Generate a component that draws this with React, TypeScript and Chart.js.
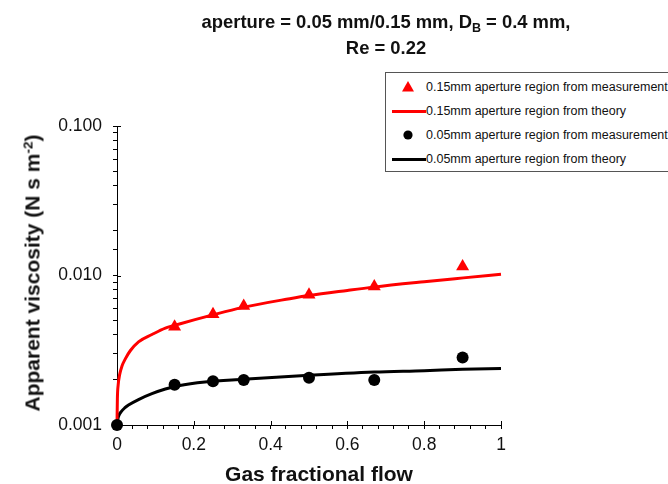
import React, { useEffect, useRef } from "react";
import { Chart, registerables } from "chart.js";

Chart.register(...registerables);

const FONT = '"Liberation Sans", Arial, Helvetica, sans-serif';
const RED = "#ff0000";
const BLACK = "#000000";

// 0.15 mm aperture: measured apparent viscosity (N s m^-2) vs gas fractional flow
const wideFlow = [0.15, 0.25, 0.33, 0.5, 0.67, 0.9];
const wideMeasured = [0.00455, 0.0055, 0.00624, 0.00743, 0.00845, 0.0115];

// 0.15 mm aperture: theory curve
const wideTheoryFlow = [0, 0.001, 0.003, 0.007, 0.013, 0.022, 0.035, 0.056, 0.091, 0.126, 0.165, 0.247, 0.325, 0.45, 0.5, 0.6, 0.668, 0.8, 0.902, 1.0];
const wideTheory = [0.001, 0.0015, 0.00185, 0.00218, 0.00248, 0.00278, 0.00315, 0.0036, 0.00403, 0.00445, 0.00476, 0.00543, 0.0061, 0.007, 0.00735, 0.00795, 0.00836, 0.00908, 0.00964, 0.0102];

// 0.05 mm aperture: measured apparent viscosity
const narrowFlow = [0, 0.15, 0.25, 0.33, 0.5, 0.67, 0.9];
const narrowMeasured = [0.001, 0.00186, 0.00196, 0.002, 0.00207, 0.002, 0.00283];

// 0.05 mm aperture: theory curve
const narrowTheoryFlow = [0, 0.002, 0.005, 0.01, 0.02, 0.03, 0.056, 0.091, 0.126, 0.16, 0.229, 0.33, 0.5, 0.67, 0.8, 0.9, 1.0];
const narrowTheory = [0.001, 0.00109, 0.00116, 0.00122, 0.0013, 0.00136, 0.00148, 0.00162, 0.00174, 0.00183, 0.00194, 0.00202, 0.00215, 0.00226, 0.00231, 0.00236, 0.00239];

// axis tick labels
const xTickValues = [0, 0.2, 0.4, 0.6, 0.8, 1];
const xTickLabels = ["0", "0.2", "0.4", "0.6", "0.8", "1"];
const yTickValues = [0.001, 0.01, 0.1];
const yTickLabels = ["0.001", "0.010", "0.100"];

const legendItems = [
  { label: "0.15mm aperture region from measurement", color: RED, kind: "triangle" },
  { label: "0.15mm aperture region from theory", color: RED, kind: "line" },
  { label: "0.05mm aperture region from measurement", color: BLACK, kind: "circle" },
  { label: "0.05mm aperture region from theory", color: BLACK, kind: "line" },
];

const toPoints = (xs: number[], ys: number[]) => xs.map((x, i) => ({ x, y: ys[i] }));

const labelFor = (values: number[], labels: string[], v: number) => {
  const i = values.findIndex((m) => Math.abs(m - v) <= 1e-6 * Math.max(1e-3, Math.abs(m)));
  return i >= 0 ? labels[i] : "";
};

// longer tick marks at the labelled values, reaching into the plot
const majorTickMarks = {
  id: "majorTickMarks",
  beforeDatasetsDraw(chart: any) {
    const { ctx, scales } = chart;
    const x = scales.x;
    const y = scales.y;
    ctx.save();
    ctx.strokeStyle = BLACK;
    ctx.lineWidth = 1;
    ctx.beginPath();
    for (const v of xTickValues) {
      const px = Math.round(x.getPixelForValue(v)) + 0.5;
      ctx.moveTo(px, y.bottom - 4);
      ctx.lineTo(px, y.bottom);
    }
    for (const v of yTickValues) {
      const py = Math.round(y.getPixelForValue(v)) + 0.5;
      ctx.moveTo(x.left, py);
      ctx.lineTo(x.left + 4, py);
    }
    ctx.stroke();
    ctx.restore();
  },
};

function LegendMarker({ kind, color }: { kind: string; color: string }) {
  if (kind === "line") {
    return <div style={{ position: "absolute", left: 6, top: -1.5, width: 34, height: 3, background: color }} />;
  }
  if (kind === "triangle") {
    return (
      <svg style={{ position: "absolute", left: 16, top: -6 }} width={12} height={11}>
        <polygon points="6,0 12,10.5 0,10.5" fill={color} />
      </svg>
    );
  }
  return (
    <svg style={{ position: "absolute", left: 17, top: -5 }} width={10} height={10}>
      <circle cx={5} cy={5} r={4.6} fill={color} />
    </svg>
  );
}

export default function App() {
  const canvasRef = useRef<HTMLCanvasElement>(null);

  useEffect(() => {
    const canvas = canvasRef.current;
    if (!canvas) return;
    Chart.defaults.font.family = FONT;
    Chart.defaults.color = "#111";

    const chart = new Chart(canvas, {
      type: "scatter",
      data: {
        datasets: [
          {
            label: "0.15mm aperture region from measurement",
            data: toPoints(wideFlow, wideMeasured),
            pointStyle: "triangle",
            pointRadius: 7.5,
            backgroundColor: RED,
            borderColor: RED,
            borderWidth: 0,
            showLine: false,
            clip: false,
          },
          {
            label: "0.05mm aperture region from measurement",
            data: toPoints(narrowFlow, narrowMeasured),
            pointStyle: "circle",
            pointRadius: 6,
            backgroundColor: BLACK,
            borderColor: BLACK,
            borderWidth: 0,
            showLine: false,
            clip: false,
          },
          {
            label: "0.15mm aperture region from theory",
            data: toPoints(wideTheoryFlow, wideTheory),
            showLine: true,
            pointRadius: 0,
            borderColor: RED,
            borderWidth: 3,
            cubicInterpolationMode: "monotone",
            clip: false,
          },
          {
            label: "0.05mm aperture region from theory",
            data: toPoints(narrowTheoryFlow, narrowTheory),
            showLine: true,
            pointRadius: 0,
            borderColor: BLACK,
            borderWidth: 3,
            cubicInterpolationMode: "monotone",
            clip: false,
          },
        ],
      },
      options: {
        responsive: false,
        animation: false,
        devicePixelRatio: 1,
        layout: { padding: { left: 0, top: 126, right: 167, bottom: 0 } },
        plugins: {
          legend: { display: false },
          title: { display: false },
          tooltip: { enabled: false },
        },
        scales: {
          x: {
            type: "linear",
            min: 0,
            max: 1,
            afterFit: (s: any) => {
              s.height = 59;
            },
            border: { display: true, color: BLACK, width: 1 },
            grid: { display: true, drawOnChartArea: false, drawTicks: true, tickLength: 4, tickColor: BLACK },
            ticks: {
              stepSize: 0.04,
              autoSkip: false,
              maxRotation: 0,
              padding: 6,
              color: "#111",
              font: { size: 17.5, family: FONT },
              callback: (v: any) => labelFor(xTickValues, xTickLabels, Number(v)),
            },
          },
          y: {
            type: "logarithmic",
            min: 0.001,
            max: 0.1,
            afterFit: (s: any) => {
              s.width = 117;
            },
            border: { display: true, color: BLACK, width: 1 },
            grid: { display: true, drawOnChartArea: false, drawTicks: true, tickLength: 4, tickColor: BLACK },
            ticks: {
              autoSkip: false,
              padding: 11,
              color: "#111",
              font: { size: 17.5, family: FONT },
              callback: (v: any) => labelFor(yTickValues, yTickLabels, Number(v)),
            },
          },
        },
      },
      plugins: [majorTickMarks],
    } as any);

    return () => chart.destroy();
  }, []);

  return (
    <div
      style={{
        position: "fixed",
        left: 0,
        top: 0,
        width: 668,
        height: 484,
        overflow: "hidden",
        background: "#fff",
        fontFamily: FONT,
        color: "#111",
      }}
    >
      <canvas ref={canvasRef} width={668} height={484} style={{ position: "absolute", left: 0, top: 0, width: 668, height: 484 }} />

      {/* chart title */}
      <div style={{ position: "absolute", left: 186, width: 400, top: 13, textAlign: "center", fontSize: 18.4, fontWeight: "bold", lineHeight: 1, whiteSpace: "nowrap" }}>
        aperture = 0.05 mm/0.15 mm, D<span style={{ fontSize: "0.68em", position: "relative", top: "0.3em" }}>B</span> = 0.4 mm,
      </div>
      <div style={{ position: "absolute", left: 186, width: 400, top: 39, textAlign: "center", fontSize: 18.4, fontWeight: "bold", lineHeight: 1, whiteSpace: "nowrap" }}>
        Re = 0.22
      </div>

      {/* y axis title */}
      <div
        style={{
          position: "absolute",
          left: 32,
          top: 273,
          transform: "translate(-50%, -50%) rotate(-90deg)",
          fontSize: 21,
          fontWeight: "bold",
          lineHeight: 1,
          whiteSpace: "nowrap",
        }}
      >
        Apparent viscosity (N s m<span style={{ fontSize: "0.65em", position: "relative", top: "-0.55em" }}>-2</span>)
      </div>

      {/* x axis title */}
      <div style={{ position: "absolute", left: 169, width: 300, top: 463, textAlign: "center", fontSize: 21, fontWeight: "bold", lineHeight: 1, whiteSpace: "nowrap" }}>
        Gas fractional flow
      </div>

      {/* legend box */}
      <div
        style={{
          position: "absolute",
          left: 385,
          top: 72,
          width: 300,
          height: 98,
          border: "1px solid #555",
          background: "#fff",
        }}
      >
        {legendItems.map((item, i) => (
          <div key={item.label} style={{ position: "absolute", left: 0, top: 14 + i * 24, width: 300, height: 0 }}>
            <LegendMarker kind={item.kind} color={item.color} />
            <div style={{ position: "absolute", left: 40, top: -8, fontSize: 12.5, lineHeight: "16px", whiteSpace: "nowrap", color: "#111" }}>
              {item.label}
            </div>
          </div>
        ))}
      </div>
    </div>
  );
}
